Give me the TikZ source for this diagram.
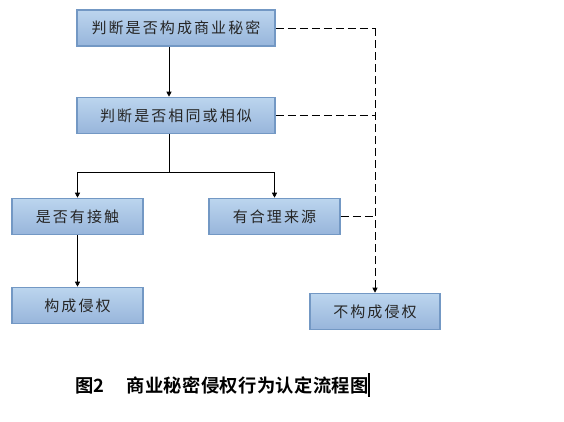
\documentclass[tikz,border=0pt]{standalone}
\usepackage{fontspec}
\newfontfamily\boxfont[LetterSpace=14]{Noto Sans CJK SC}
\newfontfamily\capfont[LetterSpace=2]{Noto Sans CJK SC Bold}
\usetikzlibrary{arrows.meta}
\definecolor{boxtop}{HTML}{BCD5EE}
\definecolor{boxbot}{HTML}{97B5DB}
\definecolor{boxline}{HTML}{7398C4}
\tikzset{
  fbox/.style={draw=boxline, line width=1.6pt, top color=boxtop, bottom color=boxbot,
    minimum height=36pt, inner sep=0pt, font=\boxfont\fontsize{15pt}{17pt}\selectfont, text=black!85},
  solidarrow/.style={line width=0.8pt, -{Triangle[length=5pt,width=5pt]}},
  dasharrow/.style={line width=0.8pt, dash pattern=on 8pt off 4pt, -{Triangle[length=5pt,width=5pt]}},
  dashline/.style={line width=0.8pt, dash pattern=on 8pt off 4pt},
  plain/.style={line width=0.8pt}
}
\begin{document}
\begin{tikzpicture}[x=1pt,y=-1pt]
\useasboundingbox (0,0) rectangle (564,421);
\node[fbox, minimum width=198pt] (b1) at (176,28) {判断是否构成商业秘密};
\node[fbox, minimum width=198pt] (b2) at (176,115.5) {判断是否相同或相似};
\node[fbox, minimum width=131pt] (c1) at (77.5,216.5) {是否有接触};
\node[fbox, minimum width=131pt] (c2) at (274.5,216.5) {有合理来源};
\node[fbox, minimum width=131pt] (d1) at (77.5,305.5) {构成侵权};
\node[fbox, minimum width=130pt] (d2) at (375,311.5) {不构成侵权};
\coordinate (br) at (169,172);
\coordinate (dx) at (375,28);
% solid flow
\draw[solidarrow] (b1.south -| br) -- (b2.north -| br);
\draw[plain] (b2.south -| br) -- (br);
\draw[solidarrow] (br) -| (c1.north);
\draw[solidarrow] (br) -| (c2.north);
\draw[solidarrow] (c1.south) -- (d1.north);
% dashed
\draw[dashline] (b1.east) -- (dx);
\draw[dasharrow] (dx) -- (d2.north);
\draw[dashline] (b2.east) -- (b2.east -| dx);
\draw[dashline] (c2.east) -- (c2.east -| dx);
% caption
\node[anchor=west, inner sep=0pt, font=\capfont\fontsize{18.3pt}{21pt}\selectfont] (cap) at (75,385) {图2\hspace{22pt}商业秘密侵权行为认定流程图};
\coordinate (cur1) at (369,373);
\coordinate (cur2) at (369,397);
\draw[line width=1.2pt] (cur1) -- (cur2);
\end{tikzpicture}
\end{document}
